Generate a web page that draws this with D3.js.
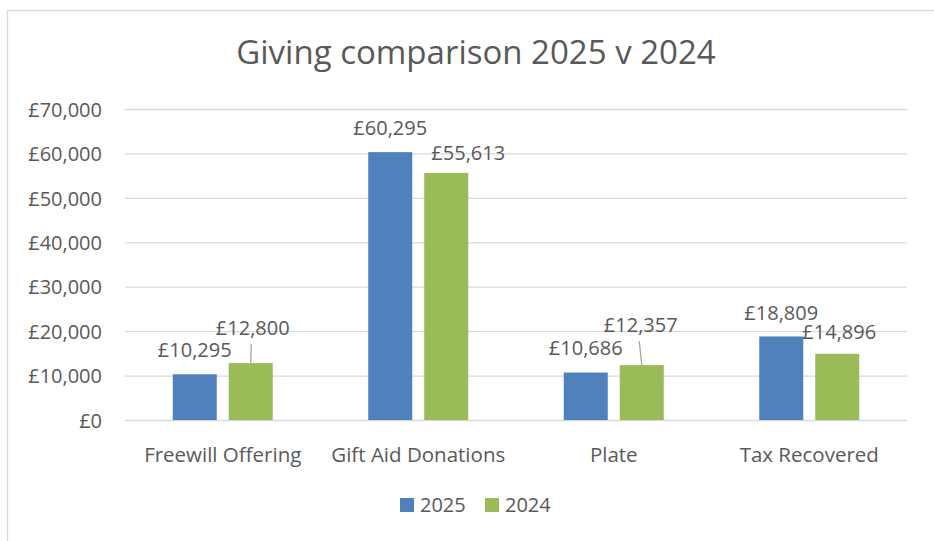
<!DOCTYPE html>
<html>

<head>
    <meta charset="UTF-8">
    <title>Giving comparison</title>
    <style>
        body {
            margin: 0;
            background: #fff;
        }

        .chartBox text {
            font-family: "Open Sans", Lato, sans-serif;
            fill: #595959;
        }
    </style>
</head>

<body>
    <div class="chartBox"></div>

    <script src="https://d3js.org/d3.v7.min.js"></script>
    <script>
        // Data
        const categories = ["Freewill Offering", "Gift Aid Donations", "Plate", "Tax Recovered"];
        const series = ["2025", "2024"];
        const values2025 = [10295, 60295, 10686, 18809];
        const values2024 = [12800, 55613, 12357, 14896];
        const yTicks = [0, 10000, 20000, 30000, 40000, 50000, 60000, 70000];

        const colors = { "2025": "#4F81BD", "2024": "#9BBB59" };

        // hand-placed label nudges (dx from bar centre, gap above bar top), like the original
        const labelNudge = {
            "2025": [[0, 17], [0, 17], [0, 17.5], [0, 16.5]],
            "2024": [[2, 28], [22, 13], [-1, 33], [2, 15]]
        };
        const leaderLines = { "2025": [false, false, false, false], "2024": [true, false, true, false] };

        // Dimensions
        const width = 934, height = 541,
            margin = { top: 109, right: 27, bottom: 121, left: 125 },
            plotWidth = width - margin.left - margin.right,
            plotHeight = height - margin.top - margin.bottom,
            fontSize = 20;

        const gbp = d3.formatLocale({ decimal: ".", thousands: ",", grouping: [3], currency: ["£", ""] }).format("$,.0f");

        const svg = d3.select(".chartBox")
            .append("svg")
            .attr("width", width)
            .attr("height", height);

        // chart area border
        svg.append("rect")
            .attr("x", 7.5)
            .attr("y", 10.5)
            .attr("width", 938)
            .attr("height", 560)
            .attr("fill", "none")
            .attr("stroke", "#D9D9D9")
            .attr("stroke-width", 1.3);

        const chartBox = svg.append("g")
            .attr("transform", `translate(${margin.left}, ${margin.top})`);

        // scales
        const x0 = d3.scaleBand()
            .domain(categories)
            .range([0, plotWidth]);

        const x1 = d3.scaleBand()
            .domain(series)
            .range([0, x0.bandwidth()])
            .paddingInner(0.214)
            .paddingOuter(0.853);

        const yScale = d3.scaleLinear()
            .domain([0, 70000])
            .range([plotHeight, 0]);

        // y-axis with gridlines
        const yAxis = chartBox.append("g")
            .attr("class", "axis-y")
            .call(d3.axisLeft(yScale)
                .tickValues(yTicks)
                .tickFormat(gbp)
                .tickSizeInner(-plotWidth)
                .tickSizeOuter(0)
                .tickPadding(23));
        yAxis.select(".domain").remove();
        yAxis.selectAll("line").attr("stroke", "#D9D9D9").attr("stroke-width", 1.3);
        yAxis.selectAll("text")
            .attr("font-size", fontSize)
            .attr("dy", "0.36em");

        // x-axis labels
        const xAxis = chartBox.append("g")
            .attr("class", "axis-x")
            .attr("transform", `translate(0, ${plotHeight})`)
            .call(d3.axisBottom(x0).tickSize(0));
        xAxis.select(".domain").remove();
        xAxis.selectAll("text")
            .attr("font-size", 20.5)
            .attr("y", 42)
            .attr("dy", 0);

        // bars
        const bars = series.map((s) => ({
            key: s,
            values: s === "2025" ? values2025 : values2024
        }));

        const groups = chartBox.selectAll(".series")
            .data(bars)
            .enter()
            .append("g")
            .attr("class", "series")
            .attr("fill", (d) => colors[d.key]);

        groups.selectAll("rect")
            .data((d) => d.values.map((v, i) => ({ key: d.key, cat: categories[i], value: v, i: i })))
            .enter()
            .append("rect")
            .attr("x", (d) => x0(d.cat) + x1(d.key))
            .attr("y", (d) => yScale(d.value))
            .attr("width", x1.bandwidth())
            .attr("height", (d) => plotHeight - yScale(d.value));

        // data labels
        const labelData = groups.selectAll("rect").data();
        const cx = (d) => x0(d.cat) + x1(d.key) + x1.bandwidth() / 2;

        chartBox.selectAll(".leader")
            .data(labelData.filter((d) => leaderLines[d.key][d.i]))
            .enter()
            .append("line")
            .attr("class", "leader")
            .attr("x1", (d) => cx(d) + labelNudge[d.key][d.i][0] - 1.5)
            .attr("y1", (d) => yScale(d.value) - labelNudge[d.key][d.i][1] + 9)
            .attr("x2", (d) => cx(d))
            .attr("y2", (d) => yScale(d.value))
            .attr("stroke", "#A6A6A6")
            .attr("stroke-width", 1.3);

        chartBox.selectAll(".label")
            .data(labelData)
            .enter()
            .append("text")
            .attr("class", "label")
            .attr("x", (d) => cx(d) + labelNudge[d.key][d.i][0])
            .attr("y", (d) => yScale(d.value) - labelNudge[d.key][d.i][1])
            .attr("text-anchor", "middle")
            .attr("font-size", fontSize)
            .text((d) => gbp(d.value));

        // title
        svg.append("text")
            .attr("x", 476)
            .attr("y", 64)
            .attr("text-anchor", "middle")
            .attr("font-size", 33)
            .text("Giving comparison 2025 v 2024");

        // legend
        const legend = svg.append("g")
            .attr("transform", "translate(400, 498)");

        const item = legend.selectAll(".legend-item")
            .data(series)
            .enter()
            .append("g")
            .attr("class", "legend-item")
            .attr("transform", (d, i) => `translate(${i * 85}, 0)`);

        item.append("rect")
            .attr("width", 14)
            .attr("height", 14)
            .attr("fill", (d) => colors[d]);

        item.append("text")
            .attr("x", 20)
            .attr("y", 14)
            .attr("font-size", fontSize)
            .text((d) => d);
    </script>
</body>

</html>
